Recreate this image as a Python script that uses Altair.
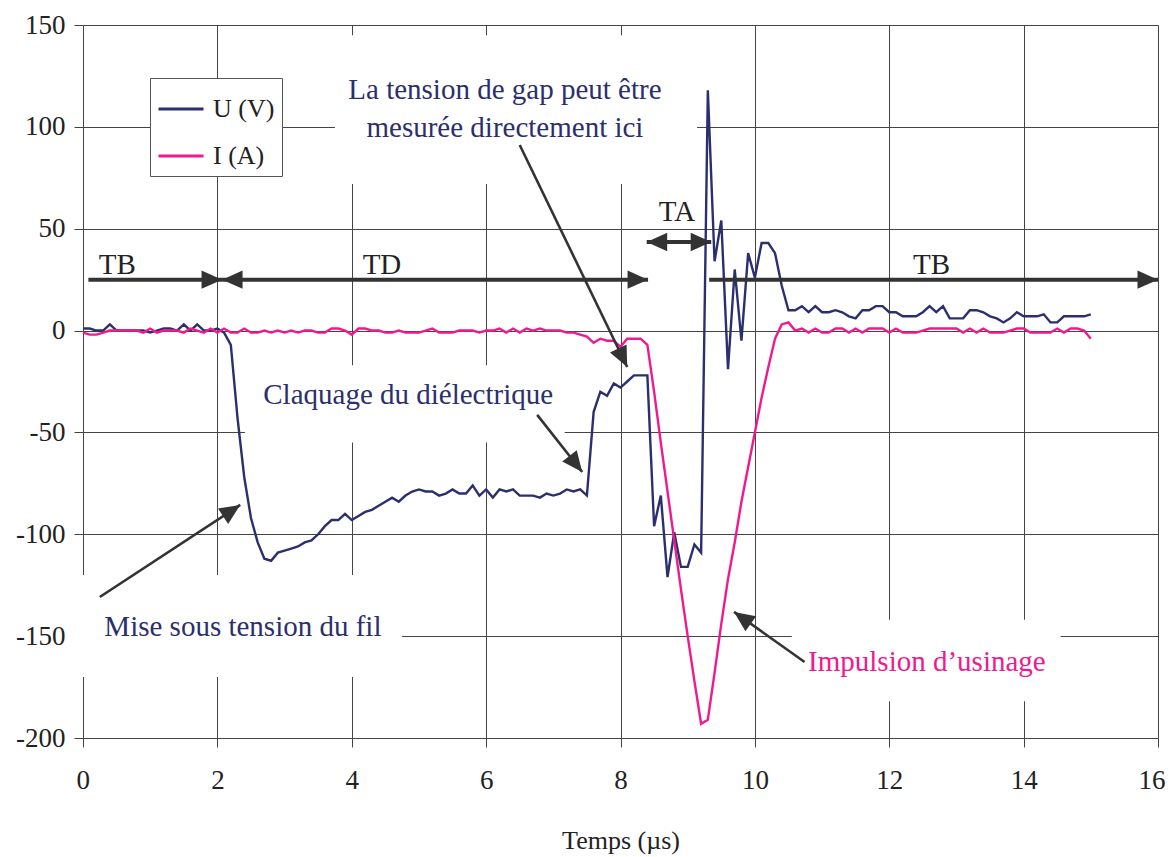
import math
import altair as alt
import pandas as pd

# ---------------- data ----------------
time_us = [round(i * 0.1, 1) for i in range(151)]

U_V = [1, 1, 0, 0, 3, 0, 0, 0, 0, 0,
       -1, 0, 1, 1, 0, 3, 0, 3, 0, 0,
       1, -1, -7, -43, -72, -92, -104, -112, -113, -109,
       -108, -107, -106, -104, -103, -100, -96, -93, -93, -90,
       -93, -91, -89, -88, -86, -84, -82, -84, -81, -79,
       -78, -79, -79, -81, -80, -78, -80, -80, -76, -81,
       -78, -82, -78, -79, -78, -81, -81, -81, -82, -80,
       -81, -80, -78, -79, -78, -81, -40, -30, -32, -26,
       -28, -25, -22, -22, -22, -96, -81, -121, -99, -116,
       -116, -105, -109, 118, 34, 54, -19, 30, -5, 38,
       26, 43, 43, 38, 22, 10, 10, 12, 9, 12,
       9, 9, 10, 9, 7, 6, 10, 10, 12, 12,
       9, 9, 7, 7, 7, 9, 12, 9, 12, 6,
       6, 6, 10, 10, 9, 7, 6, 4, 6, 9,
       7, 7, 7, 8, 4, 4, 7, 7, 7, 7,
       8]

I_A = [-1, -2, -2, -1, 0, 0, 0, 0, 0, -1,
       1, -1, 0, 0, 0, -1, 1, 0, -1, 1,
       -1, 1, -1, -1, 1, -1, -1, 0, -1, 0,
       -1, 0, -1, 0, 0, -1, -1, 1, 1, 0,
       -2, 1, 1, 0, 0, -1, -1, 0, -1, -1,
       -1, 0, 1, -1, -1, -1, 0, 0, 0, -1,
       0, 0, 1, -1, 1, -1, 1, 0, 1, 0,
       0, 0, -1, -1, -2, -3, -6, -4, -5, -5,
       -8, -4, -4, -4, -7, -30, -55, -79, -103, -127,
       -150, -172, -193, -191, -168, -144, -122, -104, -84, -67,
       -50, -33, -18, -4, 3, 4, 0, 1, -1, 1,
       -1, -1, 1, 1, -1, 1, -1, 1, 1, 1,
       -1, 1, -1, -1, -1, 0, 1, 1, 1, 1,
       1, -1, 1, -1, 1, -1, -1, -1, 0, 1,
       1, -1, -1, -1, -1, 1, -1, 1, 1, 0,
       -4]

series_names = ["U (V)", "I (A)"]
series_colors = ["#2c2f6d", "#ee1a8e"]

x_ticks = [0, 2, 4, 6, 8, 10, 12, 14, 16]
y_ticks = [-200, -150, -100, -50, 0, 50, 100, 150]

# annotation texts
note_text = ["TB", "TD", "TB", "TA",
             "La tension de gap peut être", "mesurée directement ici",
             "Claquage du diélectrique", "Mise sous tension du fil",
             "Impulsion d’usinage"]
note_t = [0.51, 4.45, 12.63, 8.84, 6.28, 6.28, 4.84, 2.38, 12.56]
note_v = [32, 32, 32, 58, 118, 99.4, -31.7, -145.5, -162.7]
note_col = ["#222222", "#222222", "#222222", "#222222",
            "#2c2f6d", "#2c2f6d", "#2c2f6d", "#2c2f6d", "#ee1a8e"]

# white boxes behind annotation texts (t1, t2, v1, v2)
box_t1 = [3.75, 2.41, -0.15, 10.55]
box_t2 = [9.14, 7.17, 4.75, 14.55]
box_v1 = [145, -17, -120, -142]
box_v2 = [72, -55, -170, -182]

# horizontal time-span arrows
span_t1 = [0.08, 2.07, 8.39, 9.32]
span_t2 = [2.07, 8.41, 9.35, 16.0]
span_v = [25, 25, 43.5, 25]
span_head_start = [False, True, True, False]
span_head_end = [True, True, True, True]

# pointer arrows: tail (t, v) -> tip (t, v)
ptr_t1 = [0.25, 6.76, 6.50, 10.74]
ptr_v1 = [-130.8, -41.4, 91.1, -162.7]
ptr_t2 = [2.34, 7.43, 8.10, 9.69]
ptr_v2 = [-85.6, -69.4, -17.9, -138.1]

# ---------------- layout ----------------
W, H = 1075, 713
T_MIN, T_MAX = 0, 16
V_MIN, V_MAX = -200, 150
px_t = W / (T_MAX - T_MIN)
px_v = H / (V_MAX - V_MIN)
FONT = "Liberation Serif"
ARROW = "#333333"

xs = alt.Scale(domain=[T_MIN, T_MAX], nice=False, zero=False)
ys = alt.Scale(domain=[V_MIN, V_MAX], nice=False, zero=False)
x_axis = alt.Axis(values=x_ticks, title="Temps (µs)", labelExpr="'' + datum.value",
                  labelFlush=True, labelFlushOffset=7)
y_axis = alt.Axis(values=y_ticks, title=None, labelExpr="'' + datum.value",
                  labelFlush=False)


def X():
    return alt.X("t:Q", scale=xs, axis=x_axis, title="Temps (µs)")


def Y():
    return alt.Y("v:Q", scale=ys, axis=y_axis, title=None)


rows = []
for name, vals in zip(series_names, [U_V, I_A]):
    for tt, vv in zip(time_us, vals):
        rows.append({"t": tt, "v": vv, "serie": name})
df_lines = pd.DataFrame(rows)

lines = alt.Chart(df_lines).mark_line(strokeWidth=2.4).encode(
    x=X(), y=Y(),
    color=alt.Color("serie:N",
                    scale=alt.Scale(domain=series_names, range=series_colors),
                    sort=series_names,
                    legend=alt.Legend(title=None, orient="none", legendX=67, legendY=53,
                                      symbolType="stroke", symbolSize=2025,
                                      symbolStrokeWidth=3, labelFont=FONT,
                                      labelFontSize=26, labelColor="#222222",
                                      rowPadding=10, labelOffset=8, padding=7,
                                      strokeColor="#555555", fillColor="white",
                                      labelLimit=200)),
    detail="serie:N",
)

df_box = pd.DataFrame({"t": box_t1, "t2": box_t2, "v": box_v1, "v2": box_v2})
boxes = alt.Chart(df_box).mark_rect(fill="white", opacity=1).encode(
    x=X(), x2="t2:Q", y=Y(), y2="v2:Q",
)

df_note = pd.DataFrame({"label": note_text, "t": note_t, "v": note_v, "col": note_col})
notes = alt.Chart(df_note).mark_text(font=FONT, fontSize=29, align="center",
                                     baseline="middle").encode(
    x=X(), y=Y(),
    text="label:N",
    color=alt.Color("col:N", scale=None),
)

df_span = pd.DataFrame({"t": span_t1, "t2": span_t2, "v": span_v})
span_shafts = alt.Chart(df_span).mark_rule(strokeWidth=4, color=ARROW).encode(
    x=X(), x2="t2:Q", y=Y(),
)

HEAD = "M0,0L-0.9,2L0.9,2Z"
heads = []
for a, b, v, hs, he in zip(span_t1, span_t2, span_v, span_head_start, span_head_end):
    if he:
        heads.append({"t": b, "v": v, "ang": 90, "sz": 420})
    if hs:
        heads.append({"t": a, "v": v, "ang": 270, "sz": 420})
for a, va, b, vb in zip(ptr_t1, ptr_v1, ptr_t2, ptr_v2):
    dx = (b - a) * px_t
    dy = -(vb - va) * px_v
    ang = math.degrees(math.atan2(dx, -dy)) % 360
    heads.append({"t": b, "v": vb, "ang": ang, "sz": 420})
df_heads = pd.DataFrame(heads)
head_marks = alt.Chart(df_heads).mark_point(shape=HEAD, filled=True, color=ARROW,
                                             opacity=1, strokeWidth=0).encode(
    x=X(), y=Y(),
    angle=alt.Angle("ang:Q", scale=None),
    size=alt.Size("sz:Q", scale=None),
)

df_ptr = pd.DataFrame({"t": ptr_t1, "v": ptr_v1, "t2": ptr_t2, "v2": ptr_v2})
ptr_shafts = alt.Chart(df_ptr).mark_rule(strokeWidth=2.6, color=ARROW).encode(
    x=X(), x2="t2:Q", y=Y(), y2="v2:Q",
)

chart = alt.layer(boxes, lines, span_shafts, ptr_shafts, head_marks, notes).properties(
    width=W, height=H,
    autosize=alt.AutoSizeParams(type="none"),
    padding={"left": 75, "top": 17, "right": 8, "bottom": 118},
    background="white",
).configure_axis(
    grid=True, gridColor="#444444", gridWidth=1, gridOpacity=1,
    domain=False, tickColor="#444444", tickSize=9, tickWidth=1,
    labelFont=FONT, labelFontSize=27, labelColor="#222222",
    titleFont=FONT, titleFontSize=26, titleColor="#222222", titleFontWeight="normal",
).configure_axisY(labelPadding=9).configure_axisX(labelPadding=20, titlePadding=34
).configure_view(stroke=None)

chart.save("out.html", embed_options={"renderer": "svg", "actions": False})
